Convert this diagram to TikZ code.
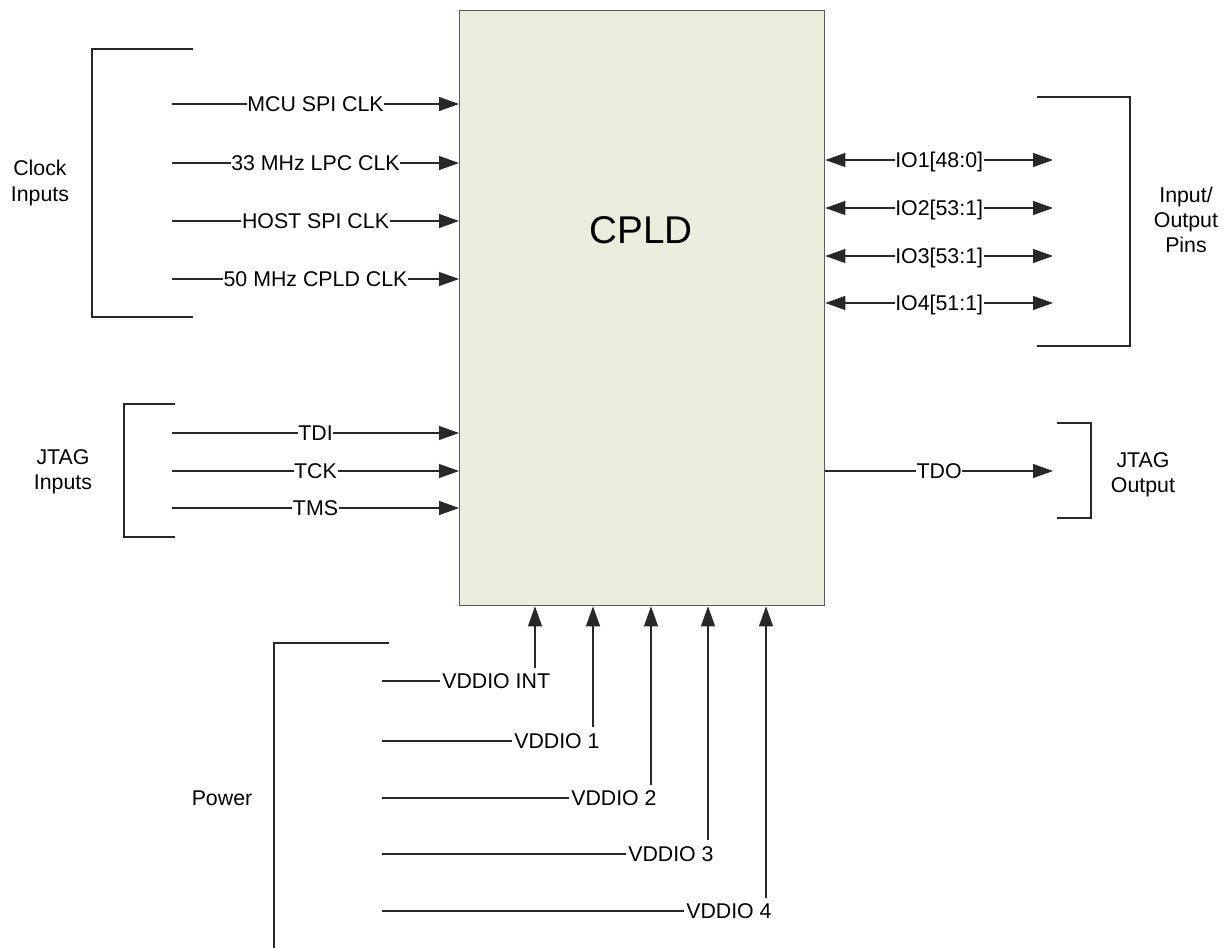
\documentclass[tikz,border=0pt]{standalone}
\usepackage{fontspec}
\setmainfont{Liberation Sans}
\usetikzlibrary{arrows.meta}
\definecolor{boxfill}{RGB}{234,238,221}
\definecolor{boxline}{RGB}{90,90,90}
\definecolor{wirecol}{RGB}{40,40,40}
\tikzset{
  wire/.style={draw=wirecol, line width=0.8pt},
  arr/.style={wire, -{Triangle[length=15pt,width=10.5pt]}},
  biarr/.style={wire, {Triangle[length=15pt,width=10.5pt]}-{Triangle[length=15pt,width=10.5pt]}},
  lbl/.style={fill=white, inner xsep=0.5pt, inner ysep=0pt, text height=11.5pt, text depth=0pt, font=\fontsize{16}{19}\selectfont},
  plbl/.style={inner xsep=1.5pt, inner ysep=0pt, text height=11.5pt, text depth=0pt, anchor=west, font=\fontsize{16}{19}\selectfont},
  grp/.style={align=center, font=\fontsize{16}{19}\selectfont},
  brk/.style={draw=wirecol, line width=0.8pt},
}
\begin{document}
\begin{tikzpicture}[x=0.75pt, y=-0.75pt]
\useasboundingbox (0,0) rectangle (1228,947);
\clip (0,0) rectangle (1228,947);
% CPLD box
\node[draw=boxline, line width=1pt, fill=boxfill, minimum width=273.75pt, minimum height=446.25pt, inner sep=0, anchor=north west] (cpld) at (459,10) {};
\node[font=\fontsize{29}{34}\selectfont] (cpldtext) at (641,230) {CPLD};
% Clock inputs
\draw[brk] (193,49) -- (92,49) -- (92,317) -- (193,317);
\node[grp] (clkgrp) at (40,183) {Clock\\Inputs};
\coordinate (c1) at (172,104);
\coordinate (c2) at (172,163);
\coordinate (c3) at (172,221);
\coordinate (c4) at (172,279);
\draw[arr] (c1) -- node[lbl]{MCU SPI CLK} (c1 -| cpld.west);
\draw[arr] (c2) -- node[lbl]{33 MHz LPC CLK} (c2 -| cpld.west);
\draw[arr] (c3) -- node[lbl]{HOST SPI CLK} (c3 -| cpld.west);
\draw[arr] (c4) -- node[lbl]{50 MHz CPLD CLK} (c4 -| cpld.west);
% JTAG inputs
\draw[brk] (175,404) -- (124,404) -- (124,537) -- (175,537);
\node[grp] (jtagin) at (63,472) {JTAG\\Inputs};
\coordinate (j1) at (172,433);
\coordinate (j2) at (172,471);
\coordinate (j3) at (172,508);
\draw[arr] (j1) -- node[lbl]{TDI} (j1 -| cpld.west);
\draw[arr] (j2) -- node[lbl]{TCK} (j2 -| cpld.west);
\draw[arr] (j3) -- node[lbl]{TMS} (j3 -| cpld.west);
% IO pins
\draw[brk] (1037,97) -- (1130,97) -- (1130,346) -- (1037,346);
\node[grp] (iogrp) at (1186,220) {Input/\\Output\\Pins};
\coordinate (o1) at (1053,160);
\coordinate (o2) at (1053,208);
\coordinate (o3) at (1053,256);
\coordinate (o4) at (1053,303);
\draw[biarr] (o1 -| cpld.east) -- node[lbl]{IO1[48:0]} (o1);
\draw[biarr] (o2 -| cpld.east) -- node[lbl]{IO2[53:1]} (o2);
\draw[biarr] (o3 -| cpld.east) -- node[lbl]{IO3[53:1]} (o3);
\draw[biarr] (o4 -| cpld.east) -- node[lbl]{IO4[51:1]} (o4);
% JTAG output
\draw[brk] (1057,423) -- (1091,423) -- (1091,518) -- (1057,518);
\node[grp] (jtagout) at (1143,475) {JTAG\\Output};
\coordinate (tdo) at (1053,471);
\draw[arr] (tdo -| cpld.east) -- node[lbl]{TDO} (tdo);
% Power
\draw[brk] (389,643) -- (274,643) -- (274,950);
\node[grp] (pwr) at (222,798) {Power};
\coordinate (p0) at (382,681);
\coordinate (p1) at (382,741);
\coordinate (p2) at (382,798);
\coordinate (p3) at (382,854);
\coordinate (p4) at (382,911);
\node[plbl] (v0) at (440,681) {VDDIO INT};
\node[plbl] (v1) at (512,741) {VDDIO 1};
\node[plbl] (v2) at (569,798) {VDDIO 2};
\node[plbl] (v3) at (626,854) {VDDIO 3};
\node[plbl] (v4) at (684,911) {VDDIO 4};
\coordinate (t0) at (535,668);
\coordinate (t1) at (593,727);
\coordinate (t2) at (651,785);
\coordinate (t3) at (708,840);
\coordinate (t4) at (766,898);
\foreach \i in {0,...,4} {
  \draw[wire] (p\i) -- (v\i.west);
  \draw[arr] (t\i) -- (t\i |- cpld.south);
}
\end{tikzpicture}
\end{document}
